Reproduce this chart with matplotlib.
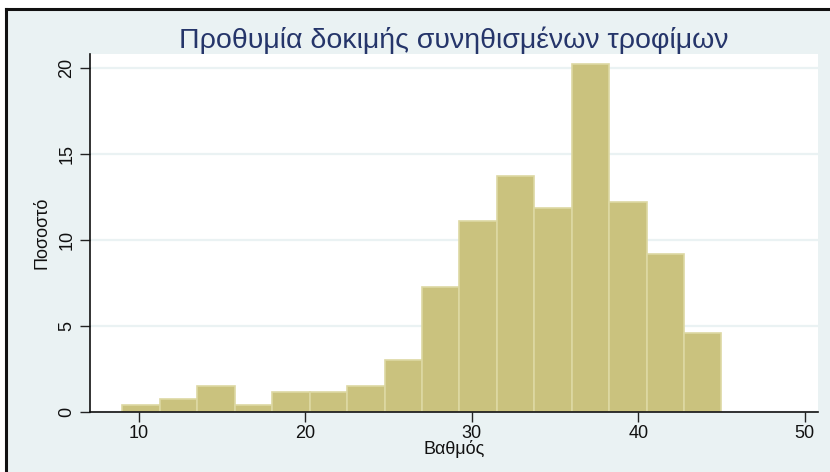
import numpy as np
import matplotlib
matplotlib.use("Agg")
import matplotlib.pyplot as plt
from matplotlib.patches import Rectangle
from matplotlib.lines import Line2D

# =========================
# DATA
# =========================

bin_start = 9.0
bin_width = 2.25
percent = [0.38, 0.76, 1.53, 0.38, 1.15, 1.15, 1.53, 3.05,
           7.25, 11.07, 13.74, 11.83, 20.23, 12.21, 9.16, 4.58]

x_ticks = [10, 20, 30, 40, 50]
y_ticks = [0, 5, 10, 15, 20]

title = "Προθυμία δοκιμής συνηθισμένων τροφίμων"
x_label = "Βαθμός"
y_label = "Ποσοστό"

# =========================
# STYLE
# =========================

plt.rcParams['font.family'] = ['Liberation Sans', 'DejaVu Sans']
region_bg = "#EAF2F3"
bar_face = "#CAC27E"
bar_edge = "#DDD8A3"
title_color = "#25356A"

W, H = 830, 472
fig = plt.figure(figsize=(W / 100, H / 100), dpi=100)
fig.patch.set_facecolor("white")

# outer graph region, dark frame on top and left only
fig.patches.append(Rectangle((6 / W, 0), 1, (H - 9) / H,
                             transform=fig.transFigure, facecolor=region_bg,
                             edgecolor="none", zorder=-2))
fig.lines.append(Line2D([6 / W, 1], [(H - 9) / H] * 2, transform=fig.transFigure,
                        color="#111111", linewidth=2.2, zorder=-1))
fig.lines.append(Line2D([6 / W] * 2, [0, (H - 9) / H], transform=fig.transFigure,
                        color="#111111", linewidth=2.2, zorder=-1))

ax = fig.add_axes([90 / W, (H - 412) / H, (818 - 90) / W, (412 - 54) / H])
ax.set_facecolor("white")

# =========================
# HISTOGRAM
# =========================

edges = bin_start + bin_width * np.arange(len(percent))
ax.bar(edges, percent, width=bin_width, align="edge",
       color=bar_face, edgecolor=bar_edge, linewidth=1.2, zorder=2)

ax.set_xlim(7.05, 50.8)
ax.set_ylim(0, 20.8)

ax.set_xticks(x_ticks)
ax.set_yticks(y_ticks)
ax.tick_params(axis="both", length=7, width=1, color="#222222",
               labelsize=13, labelcolor="#111111")
ax.tick_params(axis="x", pad=2)
for lab in ax.get_yticklabels():
    lab.set_rotation(90)
    lab.set_va("center")

ax.grid(axis="y", color=region_bg, linewidth=1.6, zorder=1)
ax.set_axisbelow(True)

for side in ["top", "right"]:
    ax.spines[side].set_visible(False)
for side in ["left", "bottom"]:
    ax.spines[side].set_color("#111111")
    ax.spines[side].set_linewidth(1.2)
    ax.spines[side].set_zorder(3)

ax.set_xlabel(x_label, fontsize=13, color="#111111", labelpad=-1)
ax.set_ylabel(y_label, fontsize=13, color="#111111", labelpad=6)

fig.text((90 + 818) / 2 / W, 1 - 40 / H, title, ha="center", va="center",
         fontsize=20.5, color=title_color)

fig.savefig("out.png", dpi=100, facecolor=fig.get_facecolor())
